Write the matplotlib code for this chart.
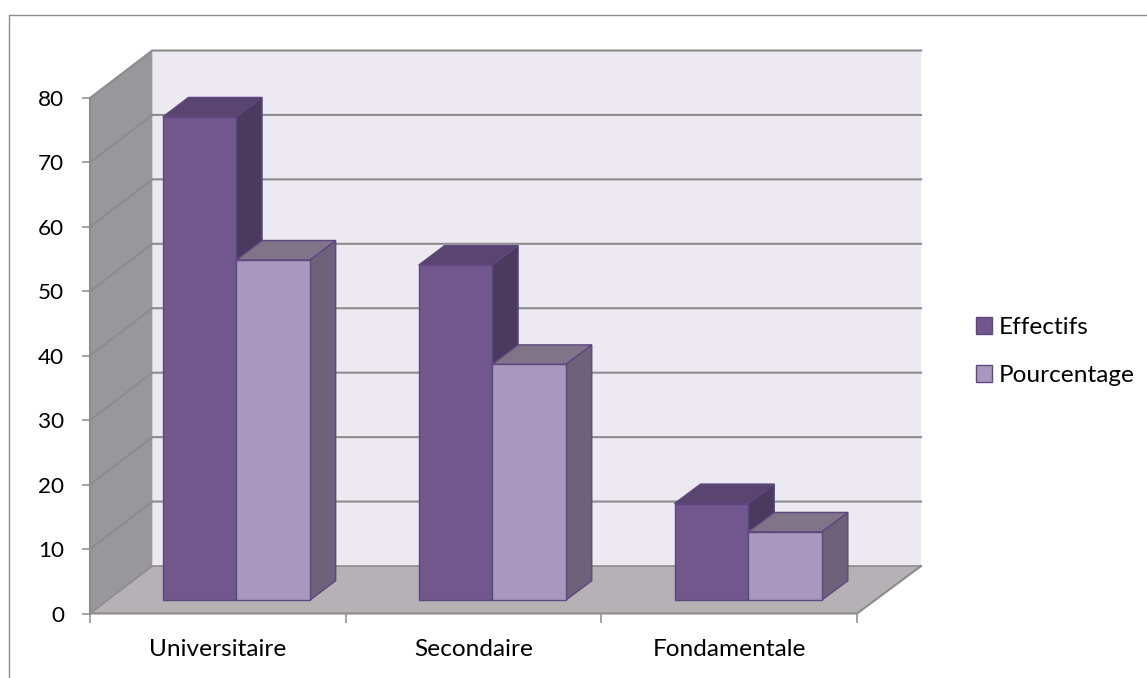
import matplotlib
matplotlib.use("Agg")
import matplotlib.pyplot as plt
from matplotlib.lines import Line2D
from matplotlib.patches import Patch, Polygon

categories = ["Universitaire", "Secondaire", "Fondamentale"]
effectifs = [75, 52, 15]
pourcentage = [52.8, 36.6, 10.6]
y_ticks = [0, 10, 20, 30, 40, 50, 60, 70, 80]

W, H = 1147, 678
plt.rcParams["font.family"] = ["Lato", "DejaVu Sans"]
fig = plt.figure(figsize=(W / 100, H / 100), dpi=100, facecolor="white")

# Front plane of the 3D box, in pixels
LEFT, RIGHT, TOP, BOTTOM = 90.0, 857.0, 98.0, 613.5
ax = fig.add_axes([LEFT / W, 1 - BOTTOM / H, (RIGHT - LEFT) / W, (BOTTOM - TOP) / H])
ax.set_xlim(0, 3)
ax.set_ylim(0, 80)
ax.patch.set_visible(False)

PX_X = (RIGHT - LEFT) / 3
PX_Y = (BOTTOM - TOP) / 80
GRID = "#8C8C8C"


def proj(x, y, t):
    """Oblique projection: t is depth, 0 at the front plane and 1 at the back wall."""
    return x + t * (62.3 + 1.8 * x / 3) / PX_X, y + t * 47.5 / PX_Y


def face(points, color, edge=None, lw=0.0, z=1):
    ax.add_patch(Polygon(points, closed=True, facecolor=color, edgecolor=edge or color,
                         linewidth=lw, clip_on=False, zorder=z, joinstyle="miter"))


# Walls and floor
face([proj(0, 0, 1), proj(3, 0, 1), proj(3, 80, 1), proj(0, 80, 1)], "#ECE9F1", z=1)
face([proj(0, 0, 0), proj(0, 0, 1), proj(0, 80, 1), proj(0, 80, 0)], "#98979B", z=1)
face([proj(0, 0, 0), proj(3, 0, 0), proj(3, 0, 1), proj(0, 0, 1)], "#B5B1B5", z=1)

for v in y_ticks:
    xs, ys = zip(proj(0, v, 0), proj(0, v, 1), proj(3, v, 1))
    ax.plot(xs, ys, color=GRID, lw=1.5 if v else 1.2, clip_on=False, zorder=2,
            solid_joinstyle="miter")
xs, ys = zip(proj(0, 0, 0), proj(3, 0, 0), proj(3, 0, 1))
ax.plot(xs, ys, color=GRID, lw=1.5, clip_on=False, zorder=2)
ax.plot([0, 0], [0, 80], color=GRID, lw=1.5, clip_on=False, zorder=2)

# Bars
EDGE = "#5E4780"
BAR_W = 0.2875
T0, T1 = 0.28, 0.69
SERIES = [
    (effectifs, -BAR_W, "#72578E", "#5A4470", "#4A3A5E"),
    (pourcentage, 0.0, "#A998BE", "#807489", "#6C6279"),
]
for i in range(len(categories)):
    for values, shift, front, top, side in SERIES:
        x0 = i + 0.5 + shift + 0.004
        x1 = x0 + BAR_W
        v = values[i]
        face([proj(x1, 0, T0), proj(x1, 0, T1), proj(x1, v, T1), proj(x1, v, T0)],
             side, EDGE, 1.0, 3)
        face([proj(x0, v, T0), proj(x1, v, T0), proj(x1, v, T1), proj(x0, v, T1)],
             top, EDGE, 1.0, 3)
        face([proj(x0, 0, T0), proj(x1, 0, T0), proj(x1, v, T0), proj(x0, v, T0)],
             front, EDGE, 1.0, 3)

# Axes furniture
for s in ax.spines.values():
    s.set_visible(False)
ax.set_yticks(y_ticks)
ax.set_xticks([0, 1, 2, 3])
ax.set_xticks([0.5, 1.5, 2.5], minor=True)
ax.set_xticklabels([])
ax.set_xticklabels(categories, minor=True)
ax.tick_params(axis="y", length=6, width=1.1, color=GRID, pad=12.5, labelsize=16.2, labelcolor="black")
ax.tick_params(axis="x", which="major", length=6.5, width=1.1, color=GRID)
ax.tick_params(axis="x", which="minor", length=0, pad=18, labelsize=17.6, labelcolor="black")

# Legend
handles = [
    Patch(facecolor="#72578E", edgecolor=EDGE, linewidth=1.0, label="Effectifs"),
    Patch(facecolor="#A998BE", edgecolor=EDGE, linewidth=1.0, label="Pourcentage"),
]
fig.legend(handles=handles, loc="center left", bbox_to_anchor=(976 / W, 1 - 351.5 / H),
           frameon=False, fontsize=17.6, handlelength=0.65, handleheight=0.65,
           handletextpad=0.28, labelspacing=1.1, borderpad=0, borderaxespad=0)

# Chart area outline
fig.add_artist(Line2D([9.0 / W, 9.0 / W, 1], [0, 1 - 14.5 / H, 1 - 14.5 / H],
                      transform=fig.transFigure, color="#8E8E8E", lw=1.0))

fig.savefig("out.png", dpi=100, facecolor="white")
